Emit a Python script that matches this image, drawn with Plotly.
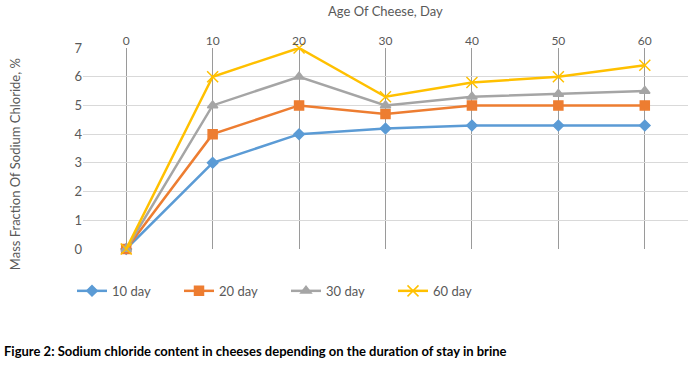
import plotly.graph_objects as go

days = ["0", "10", "20", "30", "40", "50", "60"]
series_names = ["10 day", "20 day", "30 day", "60 day"]
s10 = [0, 3.0, 4.0, 4.2, 4.3, 4.3, 4.3]
s20 = [0, 4.0, 5.0, 4.7, 5.0, 5.0, 5.0]
s30 = [0, 5.0, 6.0, 5.0, 5.3, 5.4, 5.5]
s60 = [0, 6.0, 7.0, 5.3, 5.8, 6.0, 6.4]
y_ticks = [0, 1, 2, 3, 4, 5, 6, 7]

colors = ["#5B9BD5", "#ED7D31", "#A5A5A5", "#FFC000"]
symbols = ["diamond", "square", "triangle-up", "x-thin"]
sizes = [8, 9, 9, 11]

W, H = 697, 371
L, R, T, B = 83, 9, 47.5, 122
pw, ph = W - L - R, H - T - B

def px_x(x):
    return (x - L) / pw

def px_y(y):
    return (H - B - y) / ph

fig = go.Figure()
for name, vals, c, s, sz in zip(series_names, [s10, s20, s30, s60], colors, symbols, sizes):
    fig.add_trace(go.Scatter(
        x=days, y=vals, name=name, mode="lines+markers",
        line=dict(color=c, width=2.5),
        marker=dict(symbol=s, size=sz, color=c, line=dict(color=c, width=1.5)),
        cliponaxis=False,
    ))

font_fam = "Lato, Open Sans, sans-serif"
fig.update_layout(
    width=W, height=H,
    margin=dict(l=L, r=R, t=T, b=B, autoexpand=False),
    plot_bgcolor="white", paper_bgcolor="white",
    font=dict(family=font_fam, color="#595959", size=12),
    xaxis=dict(
        type="category", side="top", showgrid=True, gridcolor="#9a9a9a", gridwidth=1,
        showline=False, zeroline=False, ticks="", ticklen=0, automargin=False,
        tickfont=dict(size=12, color="#595959"), range=[-0.5, 6.5],
    ),
    yaxis=dict(
        range=[0, 7], tickvals=y_ticks, showgrid=True, gridcolor="#d9d9d9", gridwidth=1,
        zeroline=False, showline=False, ticks="", automargin=False,
        tickfont=dict(size=13, color="#595959"),
    ),
    legend=dict(
        orientation="h", x=px_x(72), xanchor="left", y=px_y(291), yanchor="middle",
        font=dict(size=13, color="#595959"), entrywidth=62, entrywidthmode="pixels",
        bgcolor="rgba(0,0,0,0)",
    ),
    showlegend=True,
    annotations=[
        dict(text="Age Of Cheese, Day", xref="paper", yref="paper",
             x=px_x(385.5), y=px_y(10), xanchor="center", yanchor="middle",
             showarrow=False, font=dict(size=13, color="#595959")),
        dict(text="Mass Fraction Of Sodium Chloride, %", xref="paper", yref="paper",
             x=px_x(15), y=px_y(164), xanchor="center", yanchor="middle", textangle=-90,
             showarrow=False, font=dict(size=13, color="#595959")),
        dict(text="<b>Figure 2: Sodium chloride content in cheeses depending on the duration of stay in brine</b>",
             xref="paper", yref="paper", x=px_x(2), y=px_y(351), xanchor="left", yanchor="middle",
             showarrow=False, font=dict(size=13, color="#000000", family=font_fam)),
    ],
)

# remove the browser's default 8px body margin so the figure fills the window exactly
fig.write_html("out.html", config={"displayModeBar": False},
               post_script="document.body.style.margin='0px';")
